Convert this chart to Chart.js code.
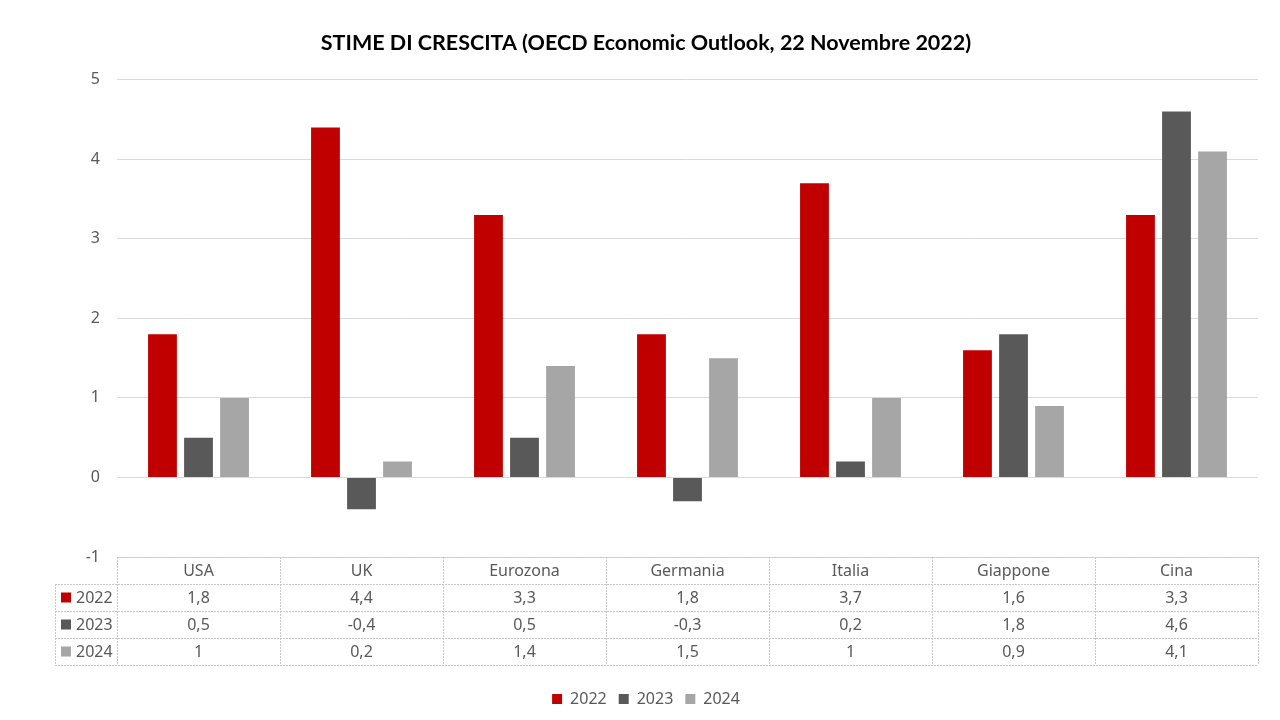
<!DOCTYPE html>
<html lang="it">
<head>
<meta charset="utf-8">
<title>Stime di crescita OECD</title>
<script src="https://cdn.jsdelivr.net/npm/chart.js@4.4.0/dist/chart.umd.min.js"></script>
<style>
    html, body { margin: 0; padding: 0; background: #fff; }
    #wrap { width: 1280px; height: 720px; }
</style>
</head>
<body>
<div id="wrap"><canvas id="chart" width="1280" height="720"></canvas></div>
<script>
// Dati
const paesi = ['USA', 'UK', 'Eurozona', 'Germania', 'Italia', 'Giappone', 'Cina'];
const anni = ['2022', '2023', '2024'];
const crescita2022 = [1.8, 4.4, 3.3, 1.8, 3.7, 1.6, 3.3];
const crescita2023 = [0.5, -0.4, 0.5, -0.3, 0.2, 1.8, 4.6];
const crescita2024 = [1, 0.2, 1.4, 1.5, 1, 0.9, 4.1];
const colori = ['#C00000', '#595959', '#A6A6A6'];
const yMin = -1;
const yMax = 5;

const testo = '#595959';
const griglia = '#D9D9D9';
const fontCorpo = "'Noto Sans', 'Open Sans', sans-serif";

// formato italiano: virgola decimale
function formatta(v) {
    return String(v).replace('.', ',');
}

/**
 * Disegna la tabella dati sotto l'area del grafico
 */
const tabellaDati = {
    id: 'tabellaDati',
    afterDraw(chart) {
        const ctx = chart.ctx;
        const area = chart.chartArea;
        const x = chart.scales.x;
        const serie = chart.data.datasets;
        const larg = (area.right - area.left) / paesi.length;
        const hRiga = 27;
        const top = area.bottom;
        const sinistra = 55;

        ctx.save();
        ctx.strokeStyle = '#C9C9C9';
        ctx.lineWidth = 1;
        ctx.setLineDash([2, 1]);

        // righe orizzontali
        ctx.beginPath();
        ctx.moveTo(area.left, top + 0.5);
        ctx.lineTo(area.right, top + 0.5);
        for (let r = 1; r <= serie.length + 1; r++) {
            const y = Math.round(top + r * hRiga) + 0.5;
            ctx.moveTo(sinistra, y);
            ctx.lineTo(area.right, y);
        }
        // linee verticali
        for (let c = 0; c <= paesi.length; c++) {
            const xx = Math.round(area.left + c * larg) + 0.5;
            ctx.moveTo(xx, top);
            ctx.lineTo(xx, top + (serie.length + 1) * hRiga);
        }
        ctx.moveTo(sinistra + 0.5, top + hRiga);
        ctx.lineTo(sinistra + 0.5, top + (serie.length + 1) * hRiga);
        ctx.stroke();
        ctx.setLineDash([]);

        ctx.font = '16px ' + fontCorpo;
        ctx.fillStyle = testo;
        ctx.textAlign = 'center';
        ctx.textBaseline = 'middle';

        // intestazione con i paesi
        paesi.forEach((p, i) => {
            ctx.fillText(p, x.getPixelForValue(i), top + hRiga / 2 + 1);
        });

        // righe dei valori
        serie.forEach((ds, r) => {
            const yc = top + (r + 1.5) * hRiga + 1;
            ctx.fillStyle = ds.backgroundColor;
            ctx.fillRect(sinistra + 6, yc - 6, 10, 10);
            ctx.fillStyle = testo;
            ctx.textAlign = 'left';
            ctx.fillText(ds.label, sinistra + 21, yc);
            ctx.textAlign = 'center';
            ds.data.forEach((v, i) => {
                ctx.fillText(formatta(v), x.getPixelForValue(i), yc);
            });
        });
        ctx.restore();
    }
};

const ctx = document.getElementById('chart').getContext('2d');

new Chart(ctx, {
    type: 'bar',
    data: {
        labels: paesi,
        datasets: [
            { label: anni[0], data: crescita2022, backgroundColor: colori[0] },
            { label: anni[1], data: crescita2023, backgroundColor: colori[1] },
            { label: anni[2], data: crescita2024, backgroundColor: colori[2] }
        ]
    },
    options: {
        responsive: false,
        animation: false,
        datasets: {
            bar: {
                categoryPercentage: 0.663,
                barPercentage: 0.8
            }
        },
        layout: {
            padding: { top: 0, right: 22, bottom: 3, left: 34 }
        },
        plugins: {
            title: {
                display: true,
                text: 'STIME DI CRESCITA (OECD Economic Outlook, 22 Novembre 2022)',
                color: '#000',
                font: { family: "Lato, 'Noto Sans', sans-serif", size: 21.5, weight: 'bold' },
                padding: { top: 30, bottom: 24 }
            },
            legend: {
                position: 'bottom',
                labels: {
                    color: testo,
                    font: { family: fontCorpo, size: 16 },
                    boxWidth: 10,
                    boxHeight: 10,
                    padding: 12
                }
            },
            tooltip: { enabled: false }
        },
        scales: {
            x: {
                grid: { display: false },
                border: { display: false },
                ticks: { display: false },
                afterFit(scale) {
                    scale.height = 122;
                }
            },
            y: {
                min: yMin,
                max: yMax,
                ticks: {
                    stepSize: 1,
                    color: testo,
                    padding: 17,
                    font: { family: fontCorpo, size: 16 },
                    callback: v => formatta(v)
                },
                grid: { color: griglia, drawTicks: false },
                border: { display: false },
                afterFit(scale) {
                    scale.width = 117 - 34;
                }
            }
        }
    },
    plugins: [tabellaDati]
});
</script>
</body>
</html>
